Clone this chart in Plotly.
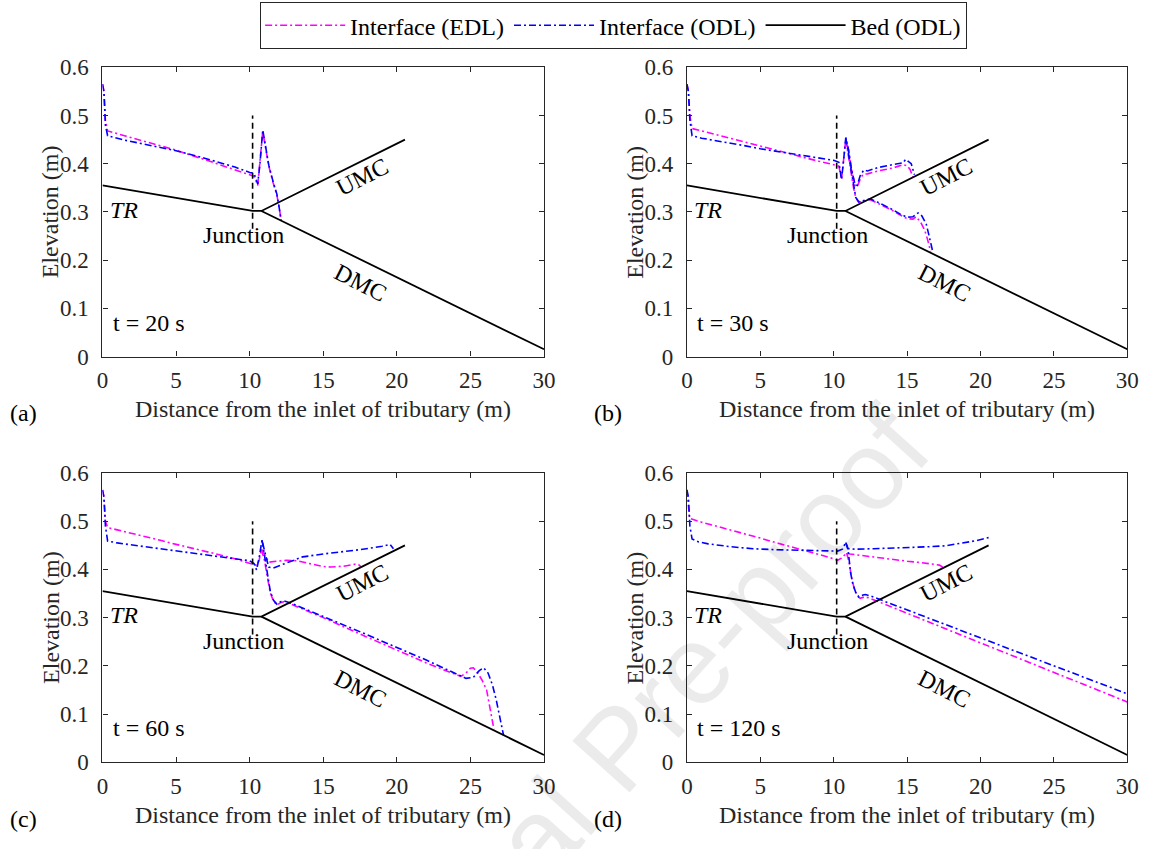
import plotly.graph_objects as go

# ---------------- data ----------------
# Bed geometry (same in every panel): TR -> junction -> UMC, and junction -> DMC
bed_x = [0, 10.2, 10.8, 20.55, None, 10.8, 30]
bed_y = [0.355, 0.302, 0.302, 0.45, None, 0.302, 0.015]
junction_line_x = [10.2, 10.2]
junction_line_y = [0.265, 0.5]

# ---- t = 20 s ----
a_edl_x = [0, 0.1, 0.2, 0.35, 1.5, 3, 5, 7, 9, 10.0, 10.3, 10.55, 10.7, 10.89, 11.1, 11.3, 11.6, 11.85, 12.0, 12.14]
a_edl_y = [0.565, 0.55, 0.49, 0.468, 0.458, 0.445, 0.428, 0.408, 0.388, 0.377, 0.374, 0.355, 0.40, 0.467, 0.43, 0.395, 0.36, 0.335, 0.31, 0.283]
a_odl_x = [0, 0.1, 0.2, 0.35, 1.5, 3, 5, 7, 9, 10.0, 10.3, 10.55, 10.7, 10.89, 11.1, 11.3, 11.6, 11.85, 12.0, 12.14]
a_odl_y = [0.565, 0.55, 0.48, 0.458, 0.449, 0.440, 0.427, 0.411, 0.393, 0.382, 0.380, 0.358, 0.40, 0.470, 0.432, 0.397, 0.362, 0.337, 0.31, 0.283]

# ---- t = 30 s ----
b_edl_x = [0, 0.1, 0.2, 0.35, 1, 2, 3, 4, 5, 6, 7, 8, 9, 10.0, 10.35, 10.53, 10.65, 10.82, 11.0, 11.2, 11.45, 11.6, 11.8, 12.0, 12.3, 13, 14, 14.75, 15.0, 15.2, 15.4]
b_edl_y = [0.565, 0.55, 0.50, 0.473, 0.468, 0.460, 0.452, 0.445, 0.437, 0.429, 0.421, 0.413, 0.405, 0.398, 0.395, 0.368, 0.40, 0.450, 0.43, 0.39, 0.355, 0.352, 0.368, 0.378, 0.379, 0.385, 0.391, 0.398, 0.396, 0.388, 0.372]
b_odl_x = [0, 0.1, 0.2, 0.35, 1, 2, 3, 4, 5, 6, 7, 8, 9, 10.0, 10.35, 10.53, 10.65, 10.82, 11.0, 11.2, 11.45, 11.6, 11.8, 12.05, 12.3, 13, 14, 14.72, 14.9, 15.28, 15.5]
b_odl_y = [0.565, 0.55, 0.49, 0.458, 0.453, 0.448, 0.443, 0.437, 0.431, 0.426, 0.421, 0.416, 0.411, 0.407, 0.403, 0.367, 0.40, 0.454, 0.43, 0.39, 0.357, 0.355, 0.375, 0.387, 0.385, 0.392, 0.398, 0.402, 0.409, 0.400, 0.377]
b_edl_dmc_x = [10.82, 11.0, 11.15, 11.35, 11.5, 11.7, 12.0, 12.5, 13.0, 13.5, 14.0, 14.5, 15.0, 15.4, 15.6, 15.9, 16.2, 16.4, 16.6]
b_edl_dmc_y = [0.450, 0.42, 0.388, 0.35, 0.33, 0.320, 0.322, 0.325, 0.318, 0.311, 0.303, 0.294, 0.286, 0.285, 0.290, 0.280, 0.262, 0.242, 0.218]
b_odl_dmc_x = [10.82, 11.0, 11.15, 11.35, 11.5, 11.7, 12.0, 12.5, 13.0, 13.5, 14.0, 14.5, 15.0, 15.4, 15.75, 16.0, 16.3, 16.5, 16.75]
b_odl_dmc_y = [0.454, 0.42, 0.388, 0.35, 0.33, 0.321, 0.323, 0.327, 0.320, 0.313, 0.305, 0.296, 0.289, 0.290, 0.298, 0.292, 0.275, 0.250, 0.217]

# ---- t = 60 s ----
c_edl_x = [0, 0.1, 0.2, 0.35, 1, 2, 3, 4, 5, 6, 7, 8, 9, 10.0, 10.3, 10.5, 10.65, 10.8, 11.0, 11.3, 11.8, 12.5, 13.2, 14.0, 15.0, 15.5, 16.5, 17.2, 17.4, 17.55]
c_edl_y = [0.565, 0.55, 0.50, 0.487, 0.482, 0.475, 0.467, 0.460, 0.452, 0.445, 0.437, 0.430, 0.422, 0.414, 0.410, 0.408, 0.42, 0.442, 0.43, 0.415, 0.417, 0.419, 0.418, 0.413, 0.406, 0.405, 0.407, 0.411, 0.410, 0.406]
c_odl_x = [0, 0.1, 0.2, 0.35, 1, 2, 3, 4, 5, 6, 7, 8, 9, 10.0, 10.3, 10.47, 10.65, 10.84, 11.0, 11.29, 11.6, 12.5, 13.6, 15.0, 16.3, 17.5, 19.0, 19.54, 19.77]
c_odl_y = [0.565, 0.55, 0.49, 0.459, 0.455, 0.451, 0.447, 0.443, 0.439, 0.435, 0.431, 0.427, 0.423, 0.418, 0.412, 0.399, 0.425, 0.461, 0.44, 0.405, 0.403, 0.413, 0.426, 0.432, 0.436, 0.441, 0.448, 0.452, 0.443]
c_edl_dmc_x = [10.8, 11.0, 11.2, 11.4, 11.62, 11.85, 12.1, 12.3, 12.73, 15.0, 17.87, 20.0, 22.0, 24.35, 24.7, 25.0, 25.2, 25.5, 25.8, 26.1, 26.35, 26.6]
c_edl_dmc_y = [0.442, 0.42, 0.385, 0.352, 0.334, 0.326, 0.331, 0.333, 0.329, 0.300, 0.261, 0.232, 0.206, 0.178, 0.185, 0.195, 0.196, 0.185, 0.170, 0.150, 0.110, 0.068]
c_odl_dmc_x = [10.84, 11.0, 11.2, 11.4, 11.62, 11.85, 12.1, 12.3, 12.73, 15.0, 17.87, 20.0, 22.0, 24.7, 25.2, 25.6, 25.9, 26.2, 26.5, 26.75, 27.0, 27.25]
c_odl_dmc_y = [0.461, 0.43, 0.39, 0.355, 0.336, 0.328, 0.333, 0.335, 0.331, 0.303, 0.266, 0.238, 0.212, 0.174, 0.176, 0.190, 0.196, 0.185, 0.160, 0.130, 0.090, 0.056]

# ---- t = 120 s ----
d_edl_x = [0, 0.08, 0.18, 1, 2, 3, 4, 5, 6, 7, 8, 9, 10.0, 10.26, 10.5, 10.7, 10.88, 11.1, 11.6, 12.5, 14.0, 15.0, 16.0, 17.2, 17.4, 17.6]
d_edl_y = [0.565, 0.54, 0.506, 0.498, 0.490, 0.482, 0.473, 0.465, 0.456, 0.448, 0.440, 0.431, 0.422, 0.419, 0.423, 0.430, 0.434, 0.432, 0.430, 0.427, 0.421, 0.417, 0.414, 0.409, 0.405, 0.402]
d_odl_x = [0, 0.1, 0.2, 0.35, 0.8, 1.45, 3, 4.5, 5.9, 7, 8.15, 9.5, 10.26, 10.59, 10.82, 10.98, 11.5, 12.7, 14.93, 16.5, 17.6, 18.7, 19.6, 20.55]
d_odl_y = [0.565, 0.55, 0.49, 0.463, 0.457, 0.453, 0.447, 0.443, 0.441, 0.440, 0.440, 0.439, 0.438, 0.442, 0.456, 0.443, 0.442, 0.443, 0.445, 0.447, 0.449, 0.454, 0.459, 0.466]
d_edl_dmc_x = [10.88, 11.05, 11.2, 11.4, 11.6, 11.8, 12.1, 12.4, 15.0, 20.0, 25.0, 30.0]
d_edl_dmc_y = [0.434, 0.415, 0.385, 0.360, 0.345, 0.340, 0.343, 0.341, 0.309, 0.248, 0.186, 0.125]
d_odl_dmc_x = [10.82, 10.98, 11.15, 11.3, 11.49, 11.71, 12.0, 12.16, 12.5, 15.0, 20.0, 25.0, 30.0]
d_odl_dmc_y = [0.456, 0.44, 0.393, 0.370, 0.353, 0.343, 0.347, 0.348, 0.345, 0.316, 0.258, 0.200, 0.142]

time_labels = ["t = 20 s", "t = 30 s", "t = 60 s", "t = 120 s"]
panel_letters = ["(a)", "(b)", "(c)", "(d)"]
x_ticks = [0, 5, 10, 15, 20, 25, 30]
y_ticks = [0, 0.1, 0.2, 0.3, 0.4, 0.5, 0.6]
y_ticktext = ["0", "0.1", "0.2", "0.3", "0.4", "0.5", "0.6"]

# ---------------- figure ----------------
W, H = 1158, 849
FONT = "Liberation Serif"
AX = "#262626"
EDL_C = "#ff00ff"
ODL_C = "#0000ff"
DASHDOT = "7px,3px,2px,3px"
TICK_FS = 23
LABEL_FS = 24
TEXT_FS = 24

panels = [
    dict(edl=[(a_edl_x, a_edl_y)], odl=[(a_odl_x, a_odl_y)]),
    dict(edl=[(b_edl_x, b_edl_y), (b_edl_dmc_x, b_edl_dmc_y)], odl=[(b_odl_x, b_odl_y), (b_odl_dmc_x, b_odl_dmc_y)]),
    dict(edl=[(c_edl_x, c_edl_y), (c_edl_dmc_x, c_edl_dmc_y)], odl=[(c_odl_x, c_odl_y), (c_odl_dmc_x, c_odl_dmc_y)]),
    dict(edl=[(d_edl_x, d_edl_y), (d_edl_dmc_x, d_edl_dmc_y)], odl=[(d_odl_x, d_odl_y), (d_odl_dmc_x, d_odl_dmc_y)]),
]

# pixel boxes of the four plot areas (left, right, top, bottom)
boxes = [(98, 546.5, 57, 355), (691.7, 1139, 57, 355), (98, 546.5, 475, 773), (691.7, 1139, 475, 773)]

fig = go.Figure()
layout = dict(width=W, height=H, margin=dict(l=0, r=0, t=0, b=0),
              paper_bgcolor="white", plot_bgcolor="white",
              font=dict(family=FONT, size=TICK_FS, color=AX))
annotations = []

# faint watermark (drawn first, so it is under the other texts)
annotations.append(dict(x=622 / W, y=1 - 758 / H, xref="paper", yref="paper",
                        xanchor="center", yanchor="middle",
                        text="Journal Pre-proof", textangle=-48, showarrow=False,
                        font=dict(family="Liberation Sans", size=112,
                                  color="rgba(0,0,0,0.08)")))

for i, (p, box) in enumerate(zip(panels, boxes)):
    sfx = "" if i == 0 else str(i + 1)
    xa, ya = "x" + sfx, "y" + sfx
    l, r, t, b = box
    layout["xaxis" + sfx] = dict(
        domain=[l / W, r / W], anchor=ya, range=[0, 30], tickvals=x_ticks,
        ticks="inside", ticklen=5, tickwidth=1, tickcolor=AX,
        showline=True, linecolor=AX, linewidth=1.2, mirror="ticks",
        showgrid=False, zeroline=False, ticklabelstandoff=3,
        tickfont=dict(family=FONT, size=TICK_FS, color=AX))
    layout["yaxis" + sfx] = dict(
        domain=[1 - b / H, 1 - t / H], anchor=xa, range=[0, 0.6],
        tickvals=y_ticks, ticktext=y_ticktext,
        ticks="inside", ticklen=5, tickwidth=1, tickcolor=AX,
        showline=True, linecolor=AX, linewidth=1.2, mirror="ticks",
        showgrid=False, zeroline=False, ticklabelstandoff=8,
        tickfont=dict(family=FONT, size=TICK_FS, color=AX))

    for k, (xs, ys) in enumerate(p["edl"]):
        fig.add_trace(go.Scatter(x=xs, y=ys, mode="lines", xaxis=xa, yaxis=ya,
                                 line=dict(color=EDL_C, width=1.6, dash=DASHDOT),
                                 name="Interface (EDL)", legendgroup="edl",
                                 showlegend=(i == 0 and k == 0)))
    for k, (xs, ys) in enumerate(p["odl"]):
        fig.add_trace(go.Scatter(x=xs, y=ys, mode="lines", xaxis=xa, yaxis=ya,
                                 line=dict(color=ODL_C, width=1.6, dash=DASHDOT),
                                 name="Interface (ODL)", legendgroup="odl",
                                 showlegend=(i == 0 and k == 0)))
    fig.add_trace(go.Scatter(x=bed_x, y=bed_y, mode="lines", xaxis=xa, yaxis=ya,
                             line=dict(color="black", width=1.8),
                             name="Bed (ODL)", legendgroup="bed", showlegend=(i == 0),
                             connectgaps=False))
    fig.add_trace(go.Scatter(x=junction_line_x, y=junction_line_y, mode="lines",
                             xaxis=xa, yaxis=ya, showlegend=False,
                             line=dict(color="black", width=1.6, dash="6px,4px")))

    # in-panel labels
    annotations += [
        dict(x=1.45, y=0.305, xref=xa, yref=ya, text="<i>TR</i>", showarrow=False,
             xanchor="center", yanchor="middle", font=dict(size=TEXT_FS, color="black")),
        dict(x=9.55, y=0.252, xref=xa, yref=ya, text="Junction", showarrow=False,
             xanchor="center", yanchor="middle", font=dict(size=TEXT_FS, color="black")),
        dict(x=17.65, y=0.372, xref=xa, yref=ya, text="UMC", showarrow=False,
             xanchor="center", yanchor="middle",
             textangle=-27, font=dict(size=TEXT_FS, color="black")),
        dict(x=17.55, y=0.152, xref=xa, yref=ya, text="DMC", showarrow=False,
             xanchor="center", yanchor="middle",
             textangle=27, font=dict(size=TEXT_FS, color="black")),
        dict(x=0.55, y=0.07, xref=xa, yref=ya, text=time_labels[i], showarrow=False,
             xanchor="left", yanchor="middle", font=dict(size=TEXT_FS, color="black")),
    ]
    # axis titles and panel letters
    annotations += [
        dict(x=(l + r) / 2 / W, y=1 - (b + 54) / H, xref="paper", yref="paper",
             xanchor="center", yanchor="middle",
             text="Distance from the inlet of tributary (m)", showarrow=False,
             font=dict(size=LABEL_FS, color=AX)),
        dict(x=(l - 53) / W, y=1 - (t + b) / 2 / H, xref="paper", yref="paper",
             xanchor="center", yanchor="middle",
             text="Elevation (m)", textangle=-90, showarrow=False,
             font=dict(size=LABEL_FS, color=AX)),
        dict(x=(l - 80) / W, y=1 - (b + 58) / H, xref="paper", yref="paper",
             xanchor="center", yanchor="middle",
             text=panel_letters[i], showarrow=False, font=dict(size=LABEL_FS, color="black")),
    ]

layout["annotations"] = annotations
layout["legend"] = dict(orientation="h", x=0.533, xanchor="center", y=1.012, yanchor="top",
                        bordercolor=AX, borderwidth=1, bgcolor="white",
                        font=dict(family=FONT, size=LABEL_FS, color="black"),
                        itemwidth=80)
fig.update_layout(**layout)
fig.write_html("out.html")
